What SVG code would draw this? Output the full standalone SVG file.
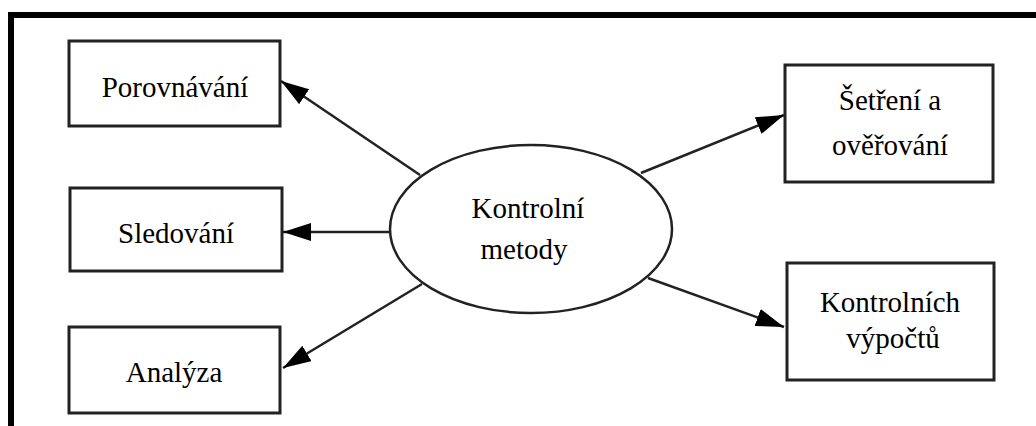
<svg xmlns="http://www.w3.org/2000/svg" width="1036" height="426" viewBox="0 0 1036 426">
<style>
.box{fill:#fff;stroke:#222;stroke-width:3}
.lbl{font-family:"Liberation Serif","Times New Roman",serif;font-size:29px;fill:#000;text-anchor:middle}
.conn{stroke:#222;stroke-width:2.5;fill:none;marker-end:url(#ah)}
</style>
<defs>
<marker id="ah" markerUnits="userSpaceOnUse" markerWidth="30" markerHeight="20" refX="28" refY="9" orient="auto">
<path d="M0,0 L28,9 L0,18 Z" fill="#000"/>
</marker>
</defs>
<rect x="0" y="0" width="1036" height="426" fill="#fff"/>
<g id="frame">
<path d="M11,426 L11,15 L1036,15" fill="none" stroke="#000" stroke-width="6"/>
</g>
<g id="connectors">
<line class="conn" x1="420" y1="175" x2="281" y2="81"/>
<line class="conn" x1="390" y1="232" x2="283" y2="232"/>
<line class="conn" x1="422" y1="284" x2="283" y2="368"/>
<line class="conn" x1="641" y1="173" x2="784" y2="115"/>
<line class="conn" x1="648" y1="278" x2="784" y2="327"/>
</g>
<g id="center">
<ellipse cx="531" cy="229" rx="141" ry="84" fill="#fff" stroke="#222" stroke-width="2.5"/>
<text class="lbl" x="528" y="218">Kontrolní</text>
<text class="lbl" x="524" y="259">metody</text>
</g>
<g id="porovnavani">
<rect class="box" x="69" y="41" width="211" height="85"/>
<text class="lbl" x="175" y="97">Porovnávání</text>
</g>
<g id="sledovani">
<rect class="box" x="70" y="188" width="212" height="83"/>
<text class="lbl" x="176" y="243">Sledování</text>
</g>
<g id="analyza">
<rect class="box" x="69" y="327" width="211" height="86"/>
<text class="lbl" x="174" y="382">Analýza</text>
</g>
<g id="setreni">
<rect class="box" x="785" y="65" width="208" height="117"/>
<text class="lbl" x="890" y="110">Šetření a</text>
<text class="lbl" x="890" y="155">ověřování</text>
</g>
<g id="vypoctu">
<rect class="box" x="787" y="263" width="207" height="117"/>
<text class="lbl" x="890" y="312">Kontrolních</text>
<text class="lbl" x="893" y="348">výpočtů</text>
</g>
</svg>
